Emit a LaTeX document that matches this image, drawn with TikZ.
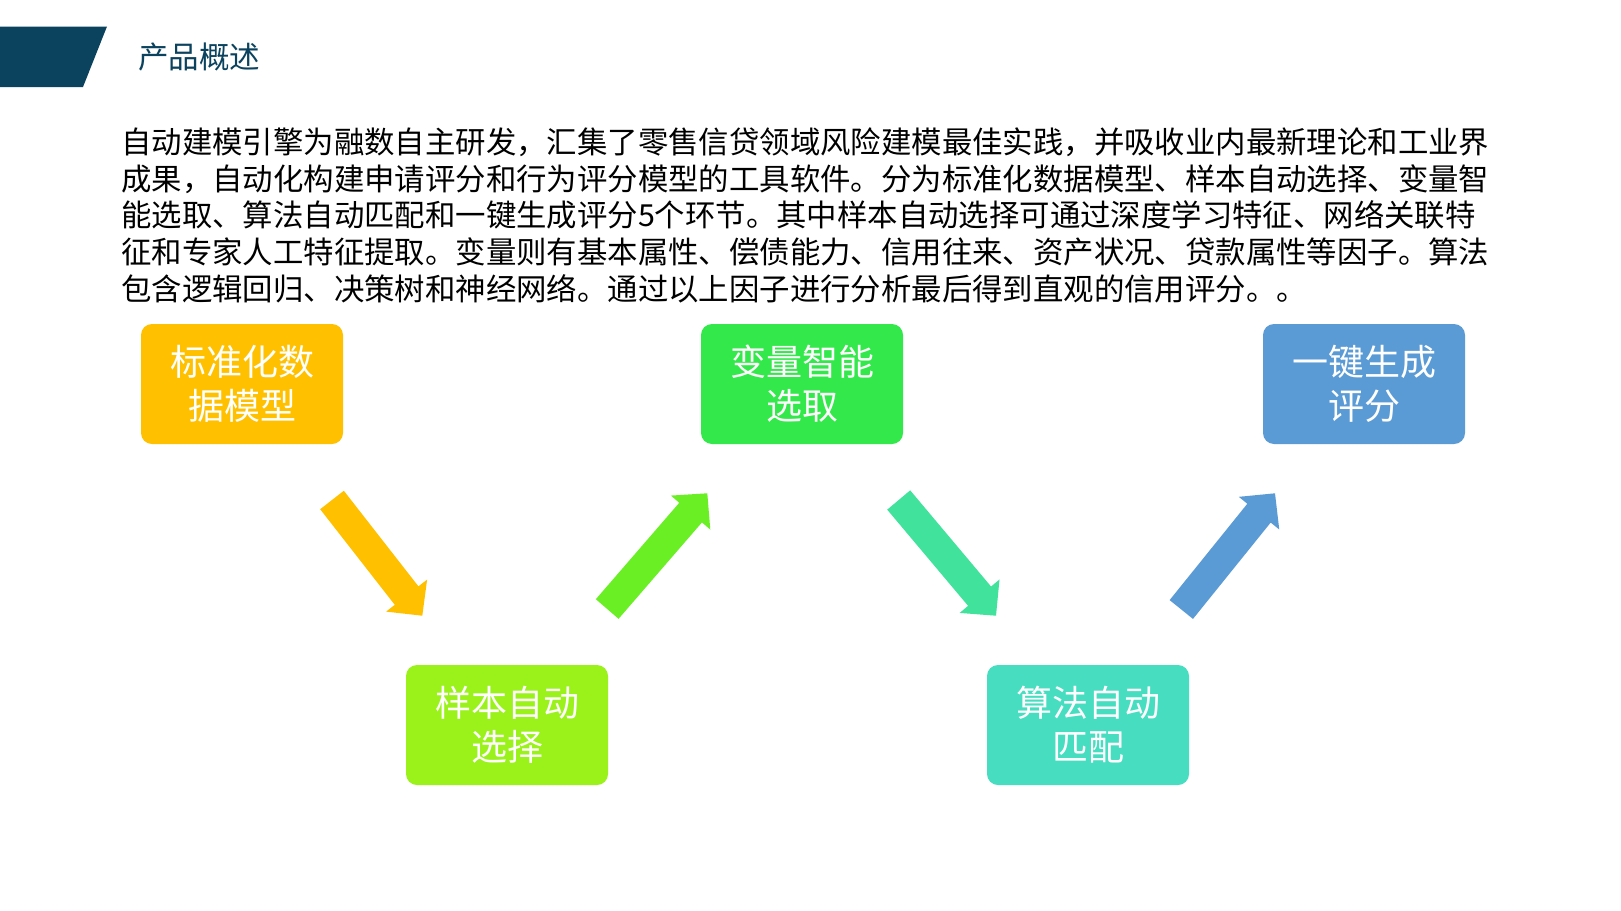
\documentclass[tikz,border=0pt]{standalone}
\usepackage{fontspec}
\setmainfont{Noto Sans CJK SC}
\usetikzlibrary{calc}
\definecolor{banner}{HTML}{0B425E}
\definecolor{cOrange}{HTML}{FFC000}
\definecolor{cGreen}{HTML}{33E84A}
\definecolor{cGreenArr}{HTML}{6AEF25}
\definecolor{cBlue}{HTML}{5B9BD5}
\definecolor{cLime}{HTML}{9AF21A}
\definecolor{cTeal}{HTML}{46DDC0}
\definecolor{cTealArr}{HTML}{41E29C}
\newcommand\blkarrow[3]{%
  \fill[#3]
    ($(#1)!15pt!90:(#2)$) --
    ($($(#2)!25.5pt!(#1)$)!15pt!-90:(#1)$) --
    ($($(#2)!25.5pt!(#1)$)!26pt!-90:(#1)$) --
    (#2) --
    ($($(#2)!25.5pt!(#1)$)!26pt!90:(#1)$) --
    ($($(#2)!25.5pt!(#1)$)!15pt!90:(#1)$) --
    ($(#1)!15pt!-90:(#2)$) -- cycle;}
\begin{document}
\begin{tikzpicture}[x=1pt,y=-1pt,
  stepbox/.style={rounded corners=11pt, minimum width=202pt, minimum height=120pt,
    inner sep=0pt, align=center, text=white,
    font=\fontsize{36}{44}\selectfont},
  bodyline/.style={anchor=base west, inner sep=0pt, text=black,
    font=\fontsize{30.4}{36.7}\selectfont}]
\useasboundingbox (0,0) rectangle (1621,910);
\fill[white] (0,0) rectangle (1621,910);
% banner
\fill[banner] (0,26.5) -- (107,26.5) -- (83,87) -- (0,87) -- cycle;
\node[anchor=base west, inner sep=0pt, text=banner, font=\fontsize{30.5}{36}\selectfont]
  (title) at (138,68.5) {产品概述};
% body text
\node[bodyline] (l1) at (121,153.4) {自动建模引擎为融数自主研发，汇集了零售信贷领域风险建模最佳实践，并吸收业内最新理论和工业界};
\node[bodyline] (l2) at (121,190.1) {成果，自动化构建申请评分和行为评分模型的工具软件。分为标准化数据模型、样本自动选择、变量智};
\node[bodyline] (l3) at (121,226.8) {能选取、算法自动匹配和一键生成评分5个环节。其中样本自动选择可通过深度学习特征、网络关联特};
\node[bodyline] (l4) at (121,263.5) {征和专家人工特征提取。变量则有基本属性、偿债能力、信用往来、资产状况、贷款属性等因子。算法};
\node[bodyline] (l5) at (121,300.2) {包含逻辑回归、决策树和神经网络。通过以上因子进行分析最后得到直观的信用评分。。};
% boxes
\node[stepbox, fill=cOrange] (b1) at (242,384) {标准化数\\据模型};
\node[stepbox, fill=cGreen]  (b2) at (802,384) {变量智能\\选取};
\node[stepbox, fill=cBlue]   (b3) at (1364,384) {一键生成\\评分};
\node[stepbox, fill=cLime]   (b4) at (507,725) {样本自动\\选择};
\node[stepbox, fill=cTeal]   (b5) at (1088,725) {算法自动\\匹配};
% arrows
\coordinate (a1t) at (332,500);    \coordinate (a1h) at (422.3,615.7);
\coordinate (a2t) at (607.2,609);  \coordinate (a2h) at (707.3,493.3);
\coordinate (a3t) at (898.7,500);  \coordinate (a3h) at (996,615.7);
\coordinate (a4t) at (1181.3,609.5); \coordinate (a4h) at (1275,493.3);
\blkarrow{a1t}{a1h}{cOrange}
\blkarrow{a2t}{a2h}{cGreenArr}
\blkarrow{a3t}{a3h}{cTealArr}
\blkarrow{a4t}{a4h}{cBlue}
\end{tikzpicture}
\end{document}
